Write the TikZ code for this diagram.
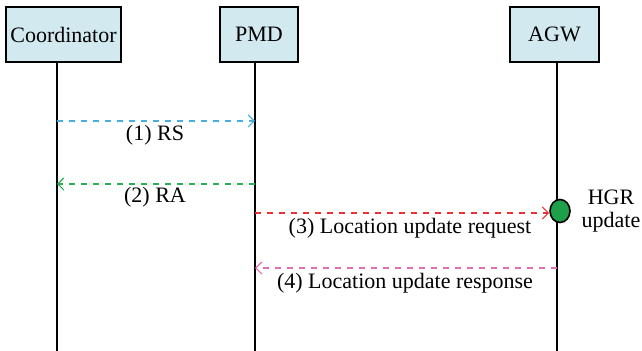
\documentclass[tikz,border=0pt]{standalone}
\usepackage{fontspec}
\setmainfont{Liberation Serif}
\usetikzlibrary{arrows.meta,shapes.geometric}
\definecolor{boxfill}{RGB}{210,233,240}
\definecolor{rscol}{RGB}{70,175,225}
\definecolor{racol}{RGB}{40,175,80}
\definecolor{reqcol}{RGB}{230,50,55}
\definecolor{respcol}{RGB}{225,110,180}
\definecolor{hgrcol}{RGB}{30,160,75}
\begin{document}
\begin{tikzpicture}[x=0.5pt,y=-0.5pt]
\tikzset{
  entity/.style={draw,thick,fill=boxfill,minimum height=27.5pt,inner sep=0pt,font=\fontsize{11}{13}\selectfont},
  lifeline/.style={thick},
  message/.style={dashed,-{Straight Barb[length=3pt,width=6pt]},line width=0.6pt},
  msglabel/.style={inner sep=1pt,font=\fontsize{11}{11.5}\selectfont}
}
\useasboundingbox (0,0) rectangle (642,351);
\node[entity,minimum width=57.5pt] (n_coord) at (63.5,34.5) {Coordinator};
\node[entity,minimum width=39pt] (n_pmd) at (259,34.5) {PMD};
\node[entity,minimum width=44.5pt] (n_agw) at (554.5,34.5) {AGW};
\coordinate (e_coord) at (57,351);
\coordinate (e_pmd) at (255,351);
\coordinate (e_agw) at (557,351);
\draw[lifeline] (n_coord.south -| e_coord) -- (e_coord);
\draw[lifeline] (n_pmd.south -| e_pmd) -- (e_pmd);
\draw[lifeline] (n_agw.south -| e_agw) -- (e_agw);
% message end points
\coordinate (rs_a) at (57,121);
\coordinate (rs_b) at (255,121);
\coordinate (ra_a) at (255,184);
\coordinate (ra_b) at (57,184);
\coordinate (req_a) at (255,213);
\node[draw,thick,fill=hgrcol,ellipse,minimum width=10pt,minimum height=11.5pt,inner sep=0pt] (n_hgr) at (560,211) {};
\coordinate (resp_a) at (557,268);
\coordinate (resp_b) at (255,268);
\draw[message,rscol] (rs_a) -- (rs_b);
\draw[message,racol] (ra_a) -- (ra_b);
\draw[message,reqcol] (req_a) -- (n_hgr.west |- req_a);
\draw[message,respcol] (resp_a) -- (resp_b);
\node[msglabel] (l_rs) at (155,135) {(1) RS};
\node[msglabel] (l_ra) at (155,197) {(2) RA};
\node[msglabel] (l_req) at (410,228) {(3) Location update request};
\node[msglabel] (l_resp) at (405,283) {(4) Location update response};
\node[msglabel,align=center] (l_hgr) at (611,211) {HGR\\update};
\end{tikzpicture}
\end{document}
